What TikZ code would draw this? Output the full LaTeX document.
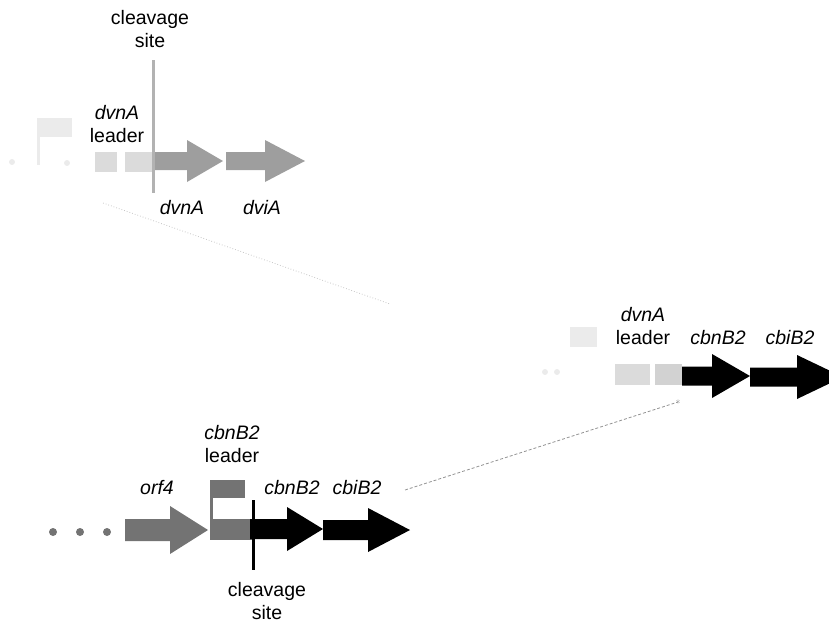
\documentclass[tikz,border=0pt]{standalone}
\usepackage{fontspec}
\setmainfont{Liberation Sans}
\usetikzlibrary{shapes.geometric}
\definecolor{lightgene}{gray}{0.62}
\definecolor{midgene}{gray}{0.45}
\definecolor{ghost}{gray}{0.86}
\definecolor{ghostb}{gray}{0.92}
\newcommand\garrow[7]{\fill[#1] (#2,{#5-#6}) -- (#3,{#5-#6}) -- (#3,{#5-#7}) -- (#4,#5) -- (#3,{#5+#7}) -- (#3,{#5+#6}) -- (#2,{#5+#6}) -- cycle;}
\tikzset{
  lbl/.style={font=\fontsize{19.5}{23}\selectfont, inner sep=0pt, align=center},
  gene/.style={lbl, font=\fontsize{19.5}{23}\selectfont\itshape},
}
\begin{document}
\begin{tikzpicture}[x=1pt,y=-1pt]
\useasboundingbox (0,0) rectangle (829,622);
\begin{scope}
\clip (0,0) rectangle (829,622);

% ---------- top diagram (dvnA) ----------
\fill[ghostb] (37,118) rectangle (72,137);
\fill[ghostb] (37,137) rectangle (40,165);
\fill[ghostb] (12,162) circle (3);
\fill[ghostb] (67,163) circle (3);
\fill[ghost] (95,152) rectangle (117,172);
\fill[ghost] (125,152) rectangle (153,172);
\garrow{lightgene}{153}{187}{223}{161}{9}{21}
\garrow{lightgene}{226}{265}{305}{161}{9}{21}
\draw[gray!60, line width=3pt] (153,60) -- (153,193);
\node[lbl] (cs1) at (150,29) {cleavage\\site};
\node[lbl] (ld1) at (117,124) {\textit{dvnA}\\leader};
\node[gene] (g1) at (182,208) {dvnA};
\node[gene] (g2) at (262,208) {dviA};
\coordinate (f1) at (103,203);
\coordinate (f2) at (390,304);
\draw[gray!45, dotted, line width=0.8pt] (f1) -- (f2);

% ---------- top-right diagram ----------
\fill[ghostb] (570,327) rectangle (597,347);
\fill[ghostb] (545,372) circle (3);
\fill[ghostb] (557,372) circle (3);
\fill[ghost] (615,364) rectangle (650,385);
\fill[gray!35] (655,364) rectangle (682,385);
\garrow{black}{682}{712}{750}{376}{9.5}{22}
\garrow{black}{750}{797}{843}{377}{9.5}{22}
\node[lbl] (ld2) at (643,326) {\textit{dvnA}\\leader};
\node[gene] (g3) at (718,338) {cbnB2};
\node[gene] (g4) at (790,338) {cbiB2};

% ---------- bottom diagram (cbnB2) ----------
\fill[midgene] (53,532) circle (4);
\fill[midgene] (80,532) circle (4);
\fill[midgene] (107,532) circle (4);
\garrow{midgene}{125}{170}{208}{530}{11}{24}
\fill[midgene] (210,480) rectangle (245,498);
\fill[midgene] (210,498) rectangle (213,519);
\fill[midgene] (210,519) rectangle (252,540);
\garrow{black}{250}{287}{323}{529}{10}{22}
\garrow{black}{323}{368}{410}{530}{10}{22}
\draw[black, line width=3pt] (253,500) -- (253,570);
\node[lbl] (ld3) at (232,444) {\textit{cbnB2}\\leader};
\node[gene] (g5) at (157,488) {orf4};
\node[gene] (g6) at (292,488) {cbnB2};
\node[gene] (g7) at (357,488) {cbiB2};
\node[lbl] (cs2) at (267,601) {cleavage\\site};

\coordinate (d1) at (405,490);
\coordinate (d2) at (678,402);
\draw[gray!85, densely dashed, line width=0.8pt] (d1) -- (d2);
\node[gray!85, inner sep=0pt, font=\fontsize{10}{10}\selectfont] (st) at (d2) {$\ast$};
\end{scope}
\end{tikzpicture}
\end{document}
